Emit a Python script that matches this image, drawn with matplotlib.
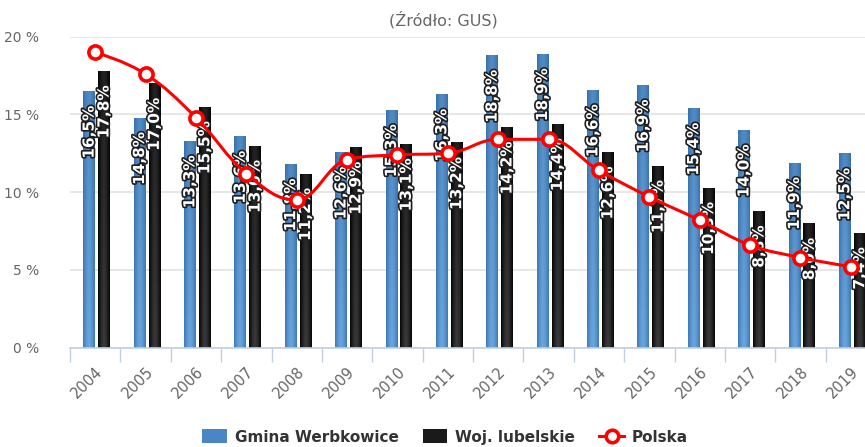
import numpy as np
import matplotlib
matplotlib.use("Agg")
import matplotlib.pyplot as plt
import matplotlib.patheffects as pe
from matplotlib.path import Path
from matplotlib.patches import PathPatch, Patch
from matplotlib.lines import Line2D

# data
years = [str(y) for y in range(2004, 2020)]
gmina = [16.5, 14.8, 13.3, 13.6, 11.8, 12.6, 15.3, 16.3, 18.8, 18.9, 16.6, 16.9, 15.4, 14.0, 11.9, 12.5]
woj = [17.8, 17.0, 15.5, 13.0, 11.2, 12.9, 13.1, 13.2, 14.2, 14.4, 12.6, 11.7, 10.3, 8.8, 8.0, 7.4]
polska = [19.0, 17.6, 14.8, 11.2, 9.5, 12.1, 12.4, 12.5, 13.4, 13.4, 11.4, 9.7, 8.2, 6.6, 5.8, 5.2]
yticks = [0, 5, 10, 15, 20]

GRAY = '#666666'


def spline_path(xs, ys, s=1.5):
    # highcharts-like spline: bezier control points from neighbours
    n = len(xs)
    left = [None] * n
    right = [None] * n
    for i in range(n):
        if i == 0 or i == n - 1:
            left[i] = right[i] = (xs[i], ys[i])
            continue
        lx = (s * xs[i] + xs[i - 1]) / (s + 1)
        ly = (s * ys[i] + ys[i - 1]) / (s + 1)
        rx = (s * xs[i] + xs[i + 1]) / (s + 1)
        ry = (s * ys[i] + ys[i + 1]) / (s + 1)
        corr = (ry - ly) * (rx - xs[i]) / (rx - lx) + ys[i] - ry
        ly += corr
        ry += corr
        if ly > ys[i - 1] and ly > ys[i]:
            ly = max(ys[i - 1], ys[i]); ry = 2 * ys[i] - ly
        elif ly < ys[i - 1] and ly < ys[i]:
            ly = min(ys[i - 1], ys[i]); ry = 2 * ys[i] - ly
        if ry > ys[i + 1] and ry > ys[i]:
            ry = max(ys[i + 1], ys[i]); ly = 2 * ys[i] - ry
        elif ry < ys[i + 1] and ry < ys[i]:
            ry = min(ys[i + 1], ys[i]); ly = 2 * ys[i] - ry
        left[i] = (lx, ly)
        right[i] = (rx, ry)
    verts = [(xs[0], ys[0])]
    codes = [Path.MOVETO]
    for i in range(1, n):
        verts += [right[i - 1], left[i], (xs[i], ys[i])]
        codes += [Path.CURVE4] * 3
    return Path(verts, codes)


def gradient_img(edge, mid, bottom):
    # horizontal shine + darker towards bottom
    w = np.linspace(-1, 1, 40)
    hmix = 1 - np.abs(w) ** 1.5
    v = np.linspace(0, 1, 60)[:, None]
    edge = np.array(matplotlib.colors.to_rgb(edge))
    mid = np.array(matplotlib.colors.to_rgb(mid))
    bottom = np.array(matplotlib.colors.to_rgb(bottom))
    row = edge[None, :] * (1 - hmix[:, None]) + mid[None, :] * hmix[:, None]
    img = np.repeat(row[None, :, :], len(v), axis=0)
    img = img * (1 - v[..., None]) + (0.6 * img + 0.4 * bottom) * v[..., None]
    return np.clip(img, 0, 1)


fig = plt.figure(figsize=(8.65, 4.47), dpi=100)
ax = fig.add_axes([70 / 865, 1 - 347.7 / 447, 806 / 865, 311 / 447])

x = np.arange(len(years))
bw = 0.23
b1 = ax.bar(x - 0.12, gmina, bw, color='#4a86c5', zorder=2, linewidth=0)
b2 = ax.bar(x + 0.175, woj, bw, color='#1a1a1a', zorder=2, linewidth=0)

img_blue = gradient_img('#3f79b6', '#6aa6de', '#2c5f96')
img_black = gradient_img('#050505', '#3a3a3c', '#000000')
for bars, img in ((b1, img_blue), (b2, img_black)):
    for r in bars:
        x0, y0 = r.get_x(), r.get_y()
        im = ax.imshow(img, extent=(x0, x0 + r.get_width(), y0 + r.get_height(), y0),
                       aspect='auto', zorder=2.1, interpolation='bilinear')
        im.set_clip_path(r)

# value labels inside the bars
stroke = [pe.withStroke(linewidth=2.4, foreground='#1e1e1e')]
for xs, vals in ((x - 0.12, gmina), (x + 0.175, woj)):
    for xi, v in zip(xs, vals):
        ax.text(xi, v - 0.95, f"{v:.1f}%".replace('.', ','), rotation=90,
                rotation_mode='anchor', ha='right', va='center', color='white',
                fontsize=11, fontweight='bold', zorder=3, path_effects=stroke)

# Polska spline
ax.add_patch(PathPatch(spline_path(list(x), polska), facecolor='none',
                       edgecolor='#ff0000', lw=2.2, zorder=4))
ax.plot(x, polska, ls='none', marker='o', ms=9.5, mfc='white', mec='#ff0000',
        mew=2.6, zorder=5)

ax.set_xlim(-0.5, len(years) - 0.5)
ax.set_ylim(0, 20)
ax.set_yticks(yticks)
ax.set_yticklabels([f"{t} %" for t in yticks], color=GRAY, fontsize=10)
ax.tick_params(axis='y', length=0, pad=22)
ax.grid(axis='y', color='#e3e3e3', lw=1.2, zorder=0)
ax.set_axisbelow(True)

ax.set_xticks(np.arange(-0.5, len(years) + 0.5, 1))
ax.set_xticklabels([])
ax.tick_params(axis='x', length=10, width=1, color='#c0d0e0', direction='out')
ax.set_xticks(x, minor=True)
ax.set_xticklabels(years, minor=True, rotation=45, ha='right', va='top',
                   rotation_mode='anchor', color=GRAY, fontsize=10.5)
ax.tick_params(axis='x', which='minor', length=0, pad=12)

for s in ('top', 'right', 'left'):
    ax.spines[s].set_visible(False)
ax.spines['bottom'].set_color('#c0d0e0')
ax.spines['bottom'].set_linewidth(1.2)

fig.text(443 / 865, 1 - 20 / 447, "(Źródło: GUS)", ha='center', va='center',
         color=GRAY, fontsize=11.5)

handles = [Patch(facecolor='#4a86c5', edgecolor='none'),
           Patch(facecolor='#1a1a1a', edgecolor='none'),
           Line2D([], [], color='#ff0000', lw=2.2, marker='o', ms=9,
                  mfc='white', mec='#ff0000', mew=2.6)]
fig.legend(handles, ['Gmina Werbkowice', 'Woj. lubelskie', 'Polska'],
           loc='center', bbox_to_anchor=(445 / 865, 1 - 437 / 447), ncol=3,
           frameon=False, handlelength=1.6, handleheight=1.0,
           handletextpad=0.5, columnspacing=1.6,
           prop={'weight': 'bold', 'size': 11}, labelcolor='#333333')

fig.savefig("out.png", dpi=100)
